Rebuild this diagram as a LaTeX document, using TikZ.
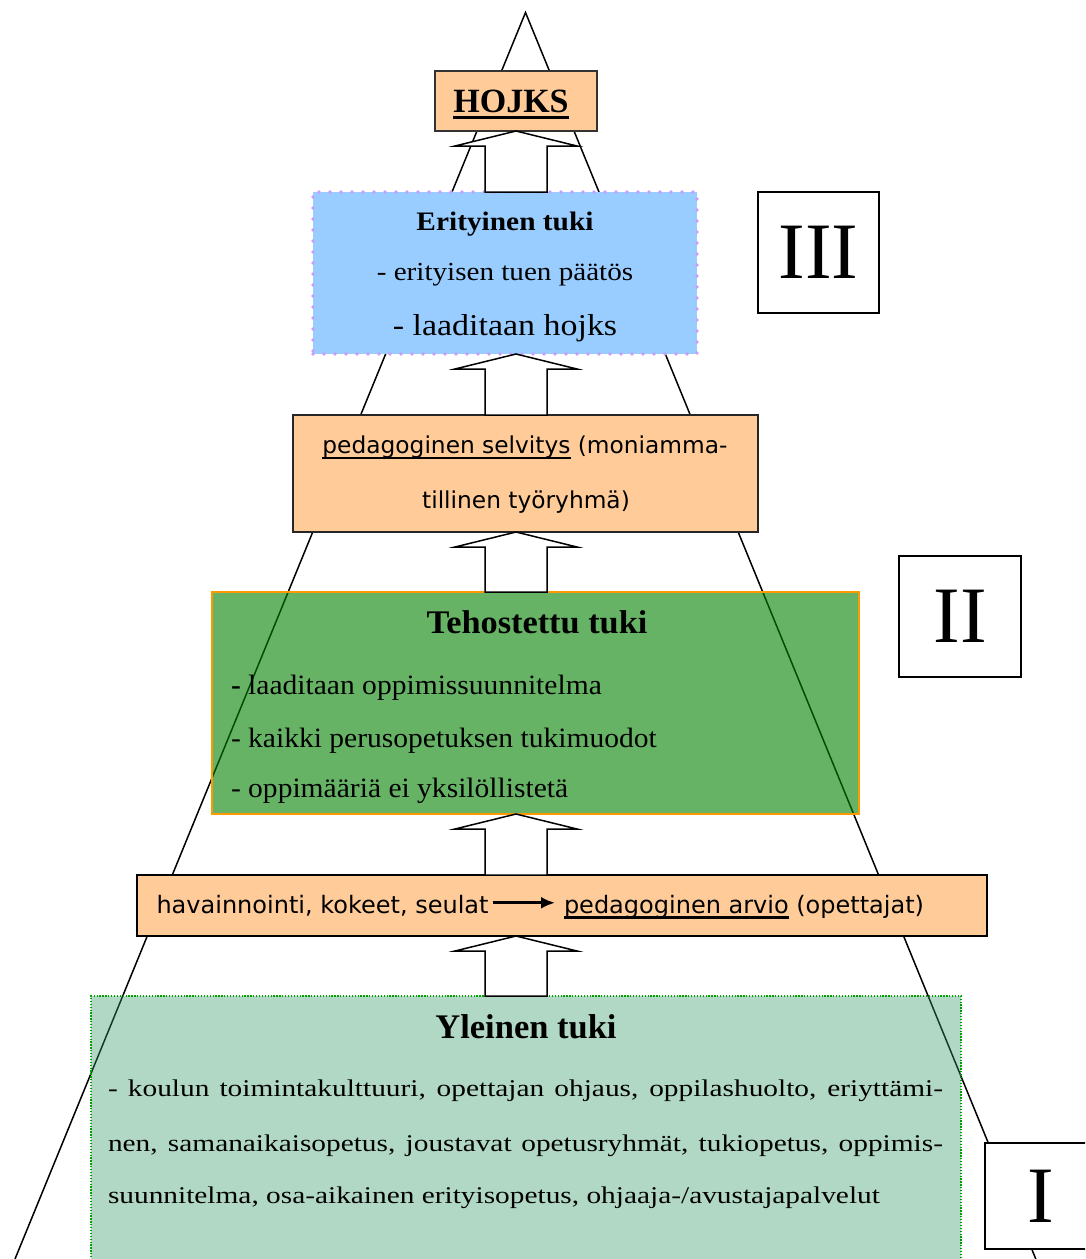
\documentclass[tikz,border=0pt]{standalone}
\usepackage{fontspec}
\setmainfont{Liberation Serif}
\newfontfamily\comic{DejaVu Sans}
\usepackage{graphicx}
\usetikzlibrary{calc,arrows.meta}

\definecolor{peach}{HTML}{FFCC99}
\definecolor{skyb}{HTML}{99CCFF}
\definecolor{lav}{HTML}{CC99FF}
\definecolor{orng}{HTML}{FF9900}
\definecolor{grn}{HTML}{008000}
\definecolor{sea}{HTML}{339966}
\definecolor{dotg}{HTML}{00A000}

\newcommand\fsz[1]{\fontsize{#1}{#1}\selectfont}
\newcommand\hs[2]{\scalebox{#1}[1]{#2}}
\newcommand\ulx[3]{\vtop{\hbox{\raisebox{0pt}[\height][0pt]{#3}}\kern#1\hrule height #2}}
\newcommand\blockarrow[2]{\draw[hollow] (#1) -- ++(61,15) -- ++(-30,0) -- ($(#2)+(31,0)$) -- ++(-62,0) -- ($(#1)+(-31,15)$) -- ++(-30,0) -- cycle;}

\tikzset{
  bx/.style={anchor=north west, inner sep=0pt, outer sep=0pt},
  txt/.style={inner sep=0pt, outer sep=0pt},
  hollow/.style={draw=black, line width=1.5pt, fill=white, line join=miter},
  numbox/.style={bx, draw=black, line width=2pt, fill=white, font=\fsz{80}},
  tri/.style={draw=black, line width=1.5pt},
}

\begin{document}
\begin{tikzpicture}[x=1pt,y=-1pt]
\useasboundingbox (0,0) rectangle (1085,1259);
\clip (0,0) rectangle (1085,1259);

% pyramid sides
\coordinate (apex) at (525.5,12.5);
\coordinate (bl) at (15,1259);
\coordinate (br) at (1035.8,1259);
\draw[tri] (bl) -- (apex) -- (br);

% boxes
\node[bx, minimum width=647pt, minimum height=222pt, fill=grn, fill opacity=0.6, draw=orng, draw opacity=1, line width=2pt] (teh) at (212,592) {};
\node[bx, minimum width=870pt, minimum height=320pt, fill=sea, fill opacity=0.38, draw=dotg, draw opacity=1, line width=1.3pt, dash pattern=on 1.3pt off 1.6pt] (yle) at (91,996) {};
\node[bx, minimum width=162pt, minimum height=60pt, fill=peach, draw=black!80, line width=1.5pt] (hojks) at (435,71) {};
\node[bx, minimum width=384pt, minimum height=162pt, fill=skyb, draw=lav, line width=3.6pt, dash pattern=on 0pt off 11pt, line cap=round] (blue) at (313,192) {};
\node[bx, minimum width=465pt, minimum height=117pt, fill=peach, draw=black!85, line width=1.5pt] (sel) at (293,415) {};
\node[bx, minimum width=850pt, minimum height=61pt, fill=peach, draw=black, line width=2.5pt] (bar) at (137,875) {};

% roman numeral boxes
\node[numbox, minimum width=121pt, minimum height=121pt] (n3) at (758,192) {III};
\node[numbox, minimum width=122pt, minimum height=121pt] (n2) at (899,556) {II};
\node[numbox, minimum width=112pt, minimum height=106pt] (n1) at (985,1143) {I};

% hollow arrows
\coordinate (ax) at (516,0);
\coordinate (a1t) at (hojks.south -| ax);
\coordinate (a1b) at (blue.north -| ax);
\coordinate (a2t) at (blue.south -| ax);
\coordinate (a2b) at (sel.north -| ax);
\coordinate (a3t) at (sel.south -| ax);
\coordinate (a3b) at (teh.north -| ax);
\coordinate (a4t) at (teh.south -| ax);
\coordinate (a4b) at (bar.north -| ax);
\coordinate (a5t) at (bar.south -| ax);
\coordinate (a5b) at (yle.north -| ax);
\blockarrow{a1t}{a1b}
\blockarrow{a2t}{a2b}
\blockarrow{a3t}{a3b}
\blockarrow{a4t}{a4b}
\blockarrow{a5t}{a5b}

% texts
\node[txt, anchor=base] (hojkst) at (511,112) {\bfseries\fsz{34}\ulx{4pt}{3pt}{HOJKS}};

\node[txt, anchor=base] (eri1) at (505,230) {\bfseries\fsz{26.7}\hs{1.1}{Erityinen tuki}};
\node[txt, anchor=base] (eri2) at (505,280) {\fsz{26}\hs{1.12}{- erityisen tuen päätös}};
\node[txt, anchor=base] (eri3) at (505,335.5) {\fsz{30.3}\hs{1.12}{- laaditaan hojks}};

\node[txt, anchor=base] (sel1) at (525,453) {\comic\fsz{23.3}\ulx{3.5pt}{2pt}{pedagoginen selvitys} (moniamma-};
\node[txt, anchor=base] (sel2) at (526,508) {\comic\fsz{23.3}tillinen työryhmä)};

\node[txt, anchor=base] (teh0) at (537,633) {\bfseries\fsz{33}\hs{1.04}{Tehostettu tuki}};
\node[txt, anchor=base west] (teh1) at (231,694) {\fsz{28}\hs{1.055}{\textbf{-} laaditaan oppimissuunnitelma}};
\node[txt, anchor=base west] (teh2) at (231,747) {\fsz{28}\hs{1.055}{- kaikki perusopetuksen tukimuodot}};
\node[txt, anchor=base west] (teh3) at (231,797) {\fsz{28}\hs{1.055}{- oppimääriä ei yksilöllistetä}};

\node[txt, anchor=base west] (bar1) at (156.5,913) {\comic\fsz{24}havainnointi, kokeet, seulat};
\node[txt, anchor=base west] (bar2) at (564,913) {\comic\fsz{24}\ulx{3pt}{2.5pt}{pedagoginen arvio} (opettajat)};
\draw[-{Latex[length=14pt,width=12pt]}, line width=2.6pt] ([xshift=4pt,yshift=2.5pt]bar1.east) -- ([xshift=-9pt,yshift=2.5pt]bar1.east -| bar2.west);

\node[txt, anchor=base] (yl0) at (526,1038) {\bfseries\fsz{34.5}Yleinen tuki};
\node[txt, anchor=base west] (yl1) at (108,1096.7) {\fsz{24}\hs{1.223}{\makebox[682.7pt][s]{- koulun toimintakulttuuri, opettajan ohjaus, oppilashuolto, eriyttämi-}}};
\node[txt, anchor=base west] (yl2) at (108,1151.7) {\fsz{24}\hs{1.223}{\makebox[682.7pt][s]{nen, samanaikaisopetus, joustavat opetusryhmät, tukiopetus, oppimis-}}};
\node[txt, anchor=base west] (yl3) at (108,1203) {\fsz{24}\hs{1.223}{suunnitelma, osa-aikainen erityisopetus, ohjaaja-/avustajapalvelut}};
\end{tikzpicture}
\end{document}
